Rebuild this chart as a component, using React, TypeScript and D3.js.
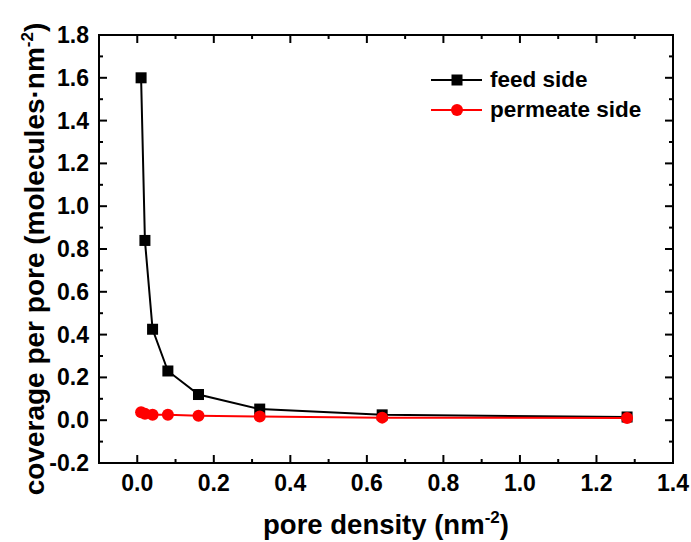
import React from 'react'
import * as d3 from 'd3'

const DENSITY = [0.01, 0.02, 0.04, 0.08, 0.16, 0.32, 0.64, 1.28]
const FEED = [1.6, 0.84, 0.425, 0.23, 0.12, 0.052, 0.025, 0.015]
const PERMEATE = [0.037, 0.03, 0.025, 0.025, 0.021, 0.017, 0.012, 0.01]
const X_TICKS = [0, 0.2, 0.4, 0.6, 0.8, 1.0, 1.2, 1.4]
const Y_TICKS = [-0.2, 0, 0.2, 0.4, 0.6, 0.8, 1.0, 1.2, 1.4, 1.6, 1.8]

const FONT = 'Liberation Sans, Arial, sans-serif'

export default function App() {
  const width = 691
  const height = 542
  const left = 99, right = 673, top = 35, bottom = 463

  const x = d3.scaleLinear().domain([-0.1, 1.4]).range([left, right])
  const y = d3.scaleLinear().domain([-0.2, 1.8]).range([bottom, top])

  const line = d3.line<number>()
    .x((d, i) => x(DENSITY[i]))
    .y(d => y(d))

  const xMinor = d3.range(-0.1, 1.41, 0.1).filter(v => !X_TICKS.some(t => Math.abs(t - v) < 1e-6))
  const yMinor = d3.range(-0.1, 1.81, 0.2)

  const tick = 8, minor = 4

  return (
    <svg width={width} height={height} style={{ position: 'absolute', left: 0, top: 0 }}>
      <rect width={width} height={height} fill="white" />
      <g stroke="black" strokeWidth={2}>
        <rect x={left} y={top} width={right - left} height={bottom - top} fill="none" />
        {X_TICKS.map(t => (
          <g key={'x' + t}>
            <line x1={x(t)} x2={x(t)} y1={bottom} y2={bottom - tick} />
            <line x1={x(t)} x2={x(t)} y1={top} y2={top + tick} />
          </g>
        ))}
        {xMinor.map(t => (
          <g key={'xm' + t}>
            <line x1={x(t)} x2={x(t)} y1={bottom} y2={bottom - minor} />
            <line x1={x(t)} x2={x(t)} y1={top} y2={top + minor} />
          </g>
        ))}
        {Y_TICKS.map(t => (
          <g key={'y' + t}>
            <line x1={left} x2={left + tick} y1={y(t)} y2={y(t)} />
            <line x1={right} x2={right - tick} y1={y(t)} y2={y(t)} />
          </g>
        ))}
        {yMinor.map(t => (
          <g key={'ym' + t}>
            <line x1={left} x2={left + minor} y1={y(t)} y2={y(t)} />
            <line x1={right} x2={right - minor} y1={y(t)} y2={y(t)} />
          </g>
        ))}
      </g>
      <g fontFamily={FONT} fontWeight="bold" fontSize={23} fill="black">
        {X_TICKS.map(t => (
          <text key={'xl' + t} x={x(t)} y={491} textAnchor="middle">{t.toFixed(1)}</text>
        ))}
        {Y_TICKS.map(t => (
          <text key={'yl' + t} x={89} y={y(t) + 8} textAnchor="end">{t.toFixed(1)}</text>
        ))}
      </g>
      <text x={386} y={534} textAnchor="middle" fontFamily={FONT} fontWeight="bold" fontSize={27.5}>
        pore density (nm<tspan dy={-11} fontSize={17}>-2</tspan><tspan dy={11}>)</tspan>
      </text>
      <text transform={`translate(44,259) rotate(-90)`} textAnchor="middle"
        fontFamily={FONT} fontWeight="bold" fontSize={28}>
        coverage per pore (molecules·nm<tspan dy={-11} fontSize={17}>-2</tspan><tspan dy={11}>)</tspan>
      </text>

      <path d={line(FEED) || ''} fill="none" stroke="black" strokeWidth={2} />
      {FEED.map((v, i) => (
        <rect key={'f' + i} x={x(DENSITY[i]) - 5.5} y={y(v) - 5.5} width={11} height={11} fill="black" />
      ))}
      <path d={line(PERMEATE) || ''} fill="none" stroke="#f00" strokeWidth={2} />
      {PERMEATE.map((v, i) => (
        <circle key={'p' + i} cx={x(DENSITY[i])} cy={y(v)} r={6} fill="#f00" />
      ))}

      <g fontFamily={FONT} fontWeight="bold" fontSize={22.5}>
        <line x1={431} x2={482} y1={80} y2={80} stroke="black" strokeWidth={2} />
        <rect x={451.5} y={74.5} width={11} height={11} fill="black" />
        <text x={490} y={87}>feed side</text>
        <line x1={431} x2={482} y1={110} y2={110} stroke="#f00" strokeWidth={2} />
        <circle cx={457} cy={110} r={6} fill="#f00" />
        <text x={490} y={117}>permeate side</text>
      </g>
    </svg>
  )
}
